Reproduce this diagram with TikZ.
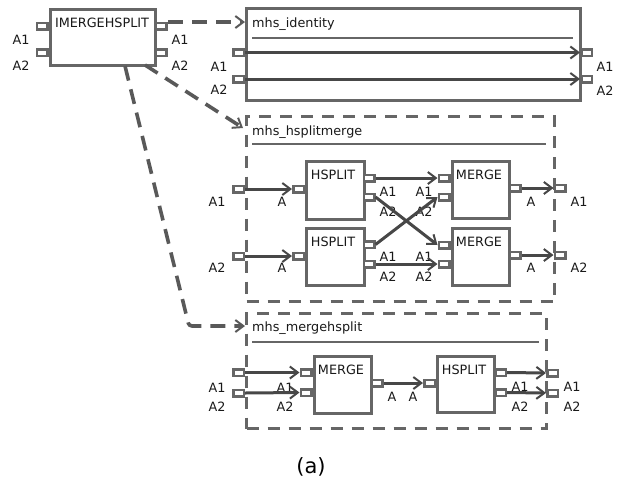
\documentclass[tikz,border=0pt]{standalone}
\usepackage{fontspec}
\setmainfont{DejaVu Sans}
\usetikzlibrary{arrows.meta}
\definecolor{bgray}{HTML}{666666}
\definecolor{agray}{HTML}{474747}
\begin{document}
\begin{tikzpicture}[x=1pt,y=-1pt,
  font=\fontsize{12.8}{14}\selectfont,
  blk/.style={draw=bgray, line width=3.4pt, fill=white, anchor=north west, inner sep=0},
  dblk/.style={blk, fill=none, dash pattern=on 12pt off 9pt},
  port/.style={draw=bgray, line width=2.5pt, fill=white, minimum width=10.5pt, minimum height=6.5pt, inner sep=0},
  lbl/.style={inner sep=0, text height=9pt, text depth=0pt, text=black!90},
  ttl/.style={inner sep=0, anchor=base west, text=black!90},
  flow/.style={draw=agray, line width=3pt, -{Straight Barb[length=8pt,width=12pt,line width=2pt]}},
  link/.style={draw=agray!90, line width=3.6pt, dash pattern=on 15pt off 9pt, -{Straight Barb[length=8pt,width=12pt,line width=2pt]}},
  sep/.style={draw=bgray, line width=1.5pt}
]
\useasboundingbox (0,0) rectangle (623,488);

% ---------- IMERGEHSPLIT ----------
\node[blk, minimum width=105pt, minimum height=56pt] (im) at (49,8) {};
\node[lbl] (imt) at (102,23) {IMERGEHSPLIT};
\node[port] (iml1) at (42,26) {};
\node[port] (iml2) at (42,52.5) {};
\node[port] (imr1) at (161,26) {};
\node[port] (imr2) at (161,52.5) {};
\node[lbl] (imla1) at (21,40) {A1};
\node[lbl] (imla2) at (21,66) {A2};
\node[lbl] (imra1) at (180,40) {A1};
\node[lbl] (imra2) at (180,66) {A2};

% ---------- mhs_identity ----------
\node[blk, minimum width=334pt, minimum height=92pt] (id) at (245,7) {};
\node[ttl] (idt) at (252,27) {mhs\_identity};
\draw[sep] (252,38) -- (573,38);
\node[port] (idl1) at (238.5,52.5) {};
\node[port] (idl2) at (238.5,79) {};
\node[port] (idr1) at (586.5,52.5) {};
\node[port] (idr2) at (586.5,79) {};
\node[lbl] (idla1) at (219,67) {A1};
\node[lbl] (idla2) at (219,90) {A2};
\node[lbl] (idra1) at (605,67) {A1};
\node[lbl] (idra2) at (605,91) {A2};
\draw[flow] (idl1.east) -- (idr1.west);
\draw[flow] (idl2.east) -- (idr2.west);

% ---------- mhs_hsplitmerge ----------
\node[dblk, minimum width=308pt, minimum height=185pt] (hm) at (245,115) {};
\node[ttl] (hmt) at (252,135) {mhs\_hsplitmerge};
\draw[sep] (252,144) -- (546,144);
\node[blk, minimum width=58pt, minimum height=58pt] (hs1) at (305,160) {};
\node[blk, minimum width=58pt, minimum height=57pt] (hs2) at (305,227) {};
\node[blk, minimum width=57pt, minimum height=57pt] (mg1) at (451,160) {};
\node[blk, minimum width=57pt, minimum height=57pt] (mg2) at (451,227) {};
\node[lbl] (hs1t) at (333,175) {HSPLIT};
\node[lbl] (hs2t) at (333,242) {HSPLIT};
\node[lbl] (mg1t) at (479,175) {MERGE};
\node[lbl] (mg2t) at (479,242) {MERGE};
% ports
\node[port] (hmi1) at (238.5,189) {};
\node[port] (hmi2) at (238.5,256) {};
\node[port] (hs1i) at (298.5,189) {};
\node[port] (hs2i) at (298.5,256) {};
\node[port] (hs1o1) at (369,178) {};
\node[port] (hs1o2) at (369,197) {};
\node[port] (hs2o1) at (369,244.5) {};
\node[port] (hs2o2) at (369,264) {};
\node[port] (mg1i1) at (444,178) {};
\node[port] (mg1i2) at (444,197) {};
\node[port] (mg2i1) at (444,245) {};
\node[port] (mg2i2) at (444,264) {};
\node[port] (mg1o) at (515,188) {};
\node[port] (mg2o) at (515,255) {};
\node[port] (hmo1) at (560,188) {};
\node[port] (hmo2) at (560,255) {};
% labels
\node[lbl] (hmla1) at (217,202) {A1};
\node[lbl] (hmla2) at (217,268) {A2};
\node[lbl] (hs1a) at (282,202) {A};
\node[lbl] (hs2a) at (282,268) {A};
\node[lbl] (hs1a1) at (388,192) {A1};
\node[lbl] (hs1a2) at (388,212) {A2};
\node[lbl] (hs2a1) at (388,257) {A1};
\node[lbl] (hs2a2) at (388,277) {A2};
\node[lbl] (mg1a1) at (424,192) {A1};
\node[lbl] (mg1a2) at (424,212) {A2};
\node[lbl] (mg2a1) at (424,257) {A1};
\node[lbl] (mg2a2) at (424,277) {A2};
\node[lbl] (mg1a) at (531,202) {A};
\node[lbl] (mg2a) at (531,268) {A};
\node[lbl] (hmra1) at (579,202) {A1};
\node[lbl] (hmra2) at (579,268) {A2};
% flows
\draw[flow] (hmi1.east) -- (hs1i.west);
\draw[flow] (hmi2.east) -- (hs2i.west);
\draw[flow] (hs1o1.east) -- (mg1i1.west);
\draw[flow] (hs1o2.east) -- (mg2i1.west);
\draw[flow] (hs2o1.east) -- (mg1i2.west);
\draw[flow] (hs2o2.east) -- (mg2i2.west);
\draw[flow] (mg1o.east) -- (hmo1.west);
\draw[flow] (mg2o.east) -- (hmo2.west);

% ---------- mhs_mergehsplit ----------
\node[dblk, minimum width=300pt, minimum height=115pt] (mh) at (245,312) {};
\node[ttl] (mht) at (252,331) {mhs\_mergehsplit};
\draw[sep] (252,342) -- (539,342);
\node[blk, minimum width=57pt, minimum height=57pt] (mg3) at (313,355) {};
\node[blk, minimum width=57pt, minimum height=56pt] (hs3) at (436,355) {};
\node[lbl] (mg3t) at (341,370) {MERGE};
\node[lbl] (hs3t) at (464,370) {HSPLIT};
\node[port] (mhi1) at (238.5,372.5) {};
\node[port] (mhi2) at (238.5,393) {};
\node[port] (mg3i1) at (306,372.5) {};
\node[port] (mg3i2) at (306,392.5) {};
\node[port] (mg3o) at (377,383) {};
\node[port] (hs3i) at (429.5,383) {};
\node[port] (hs3o1) at (500.5,372.5) {};
\node[port] (hs3o2) at (500.5,392.5) {};
\node[port] (mho1) at (552.5,373) {};
\node[port] (mho2) at (552.5,393) {};
\node[lbl] (mhla1) at (217,388) {A1};
\node[lbl] (mhla2) at (217,407) {A2};
\node[lbl] (mg3a1) at (285,388) {A1};
\node[lbl] (mg3a2) at (285,407) {A2};
\node[lbl] (mg3a) at (392,397) {A};
\node[lbl] (hs3a) at (413,397) {A};
\node[lbl] (hs3a1) at (520,387) {A1};
\node[lbl] (hs3a2) at (520,407) {A2};
\node[lbl] (mhra1) at (572,387) {A1};
\node[lbl] (mhra2) at (572,407) {A2};
\draw[flow] (mhi1.east) -- (mg3i1.west);
\draw[flow] (mhi2.east) -- (mg3i2.west);
\draw[flow] (mg3o.east) -- (hs3i.west);
\draw[flow] (hs3o1.east) -- (mho1.west);
\draw[flow] (hs3o2.east) -- (mho2.west);

% ---------- dashed links ----------
\coordinate (s1) at (168,22);
\coordinate (s2) at (145,65);
\coordinate (t2) at (243,128);
\coordinate (s3) at (125,66);
\coordinate (b3) at (189,326);
\draw[link] (s1) -- (s1 -| id.west);
\draw[link] (s2) -- (t2);
\draw[link, rounded corners=3pt] (s3) -- (b3) -- (b3 -| mh.west);

% ---------- caption ----------
\node[inner sep=0, font=\fontsize{21}{24}\selectfont] (cap) at (311,467) {(a)};
\end{tikzpicture}
\end{document}
